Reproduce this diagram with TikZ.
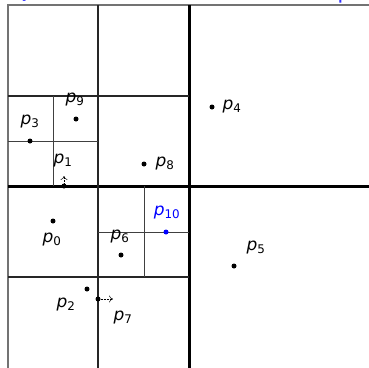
\documentclass[tikz,border=0pt]{standalone}
\usepackage{fontspec}
\setmainfont{DejaVu Sans}
\usetikzlibrary{arrows.meta}
\begin{document}
\begin{tikzpicture}[x=1pt,y=-1pt,
  lvA/.style={line width=3pt,black},
  lvB/.style={line width=1.7pt,black!85},
  lvC/.style={line width=1pt,black!75},
  frame/.style={line width=1.5pt,black!55},
  pt/.style={circle,fill=black,inner sep=0pt,minimum size=5pt},
  lbl/.style={inner sep=0pt,font=\fontsize{17}{18}\selectfont},
  pinarrow/.style={densely dotted,line width=0.5pt,-{To[length=4pt,width=7pt]}}]
\useasboundingbox (0,0) rectangle (369,367);
\clip (0,0) rectangle (369,367);
% cut-off title
\node[anchor=base west,inner sep=0pt,text=blue!80,font=\fontsize{22.5}{24}\selectfont] (title) at (11,-2) {Quadtree Construction Example};
% root frame
\draw[frame] (8,372) -- (8,5) -- (372,5);
% level 1
\draw[lvA] (189,5) -- (189,372);
\draw[lvA] (8,186) -- (372,186);
% level 2: NW and SW quadrants
\draw[lvB] (98,5) -- (98,372);
\draw[lvB] (8,96) -- (189,96);
\draw[lvB] (8,277) -- (189,277);
% level 3
\draw[lvC] (53,96) -- (53,186);
\draw[lvC] (8,141) -- (98,141);
\draw[lvC] (144,186) -- (144,277);
\draw[lvC] (98,232) -- (189,232);
% points
\node[pt] (d9) at (76,119) {};
\node[lbl] (l9) at (75,100) {\textit{p}\textsubscript{9}};
\node[pt] (d3) at (30,141) {};
\node[lbl] (l3) at (30,122) {\textit{p}\textsubscript{3}};
\node[pt] (d1) at (64,186) {};
\node[lbl] (l1) at (63,161) {\textit{p}\textsubscript{1}};
\coordinate (a1) at (64,176);
\draw[pinarrow] (d1) -- (a1);
\node[pt] (d8) at (144,164) {};
\node[lbl] (l8) at (165,164) {\textit{p}\textsubscript{8}};
\node[pt] (d4) at (212,107) {};
\node[lbl] (l4) at (232,107) {\textit{p}\textsubscript{4}};
\node[pt] (d0) at (53,221) {};
\node[lbl] (l0) at (52,240) {\textit{p}\textsubscript{0}};
\node[pt] (d6) at (121,255) {};
\node[lbl] (l6) at (120,237) {\textit{p}\textsubscript{6}};
\node[pt,fill=blue] (d10) at (166,232) {};
\node[lbl,text=blue] (l10) at (167,213) {\textit{p}\textsubscript{10}};
\node[pt] (d5) at (234,266) {};
\node[lbl] (l5) at (256,248) {\textit{p}\textsubscript{5}};
\node[pt] (d2) at (87,289) {};
\node[lbl] (l2) at (66,305) {\textit{p}\textsubscript{2}};
\node[pt] (d7) at (98,299) {};
\node[lbl] (l7) at (123,318) {\textit{p}\textsubscript{7}};
\coordinate (a7) at (113,299);
\draw[pinarrow] (d7) -- (a7);
\end{tikzpicture}
\end{document}
